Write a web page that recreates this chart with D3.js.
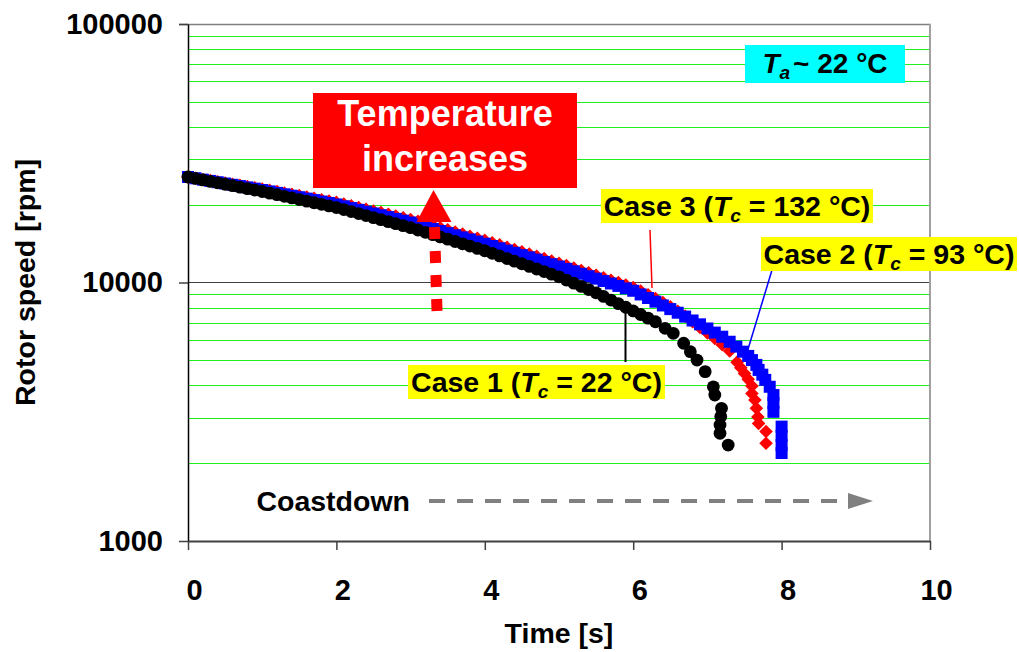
<!DOCTYPE html>
<html>
<head>
<meta charset="utf-8">
<script src="https://cdn.jsdelivr.net/npm/d3@7"></script>
<style>
  body { margin: 0; background: #fff; }
  svg { display: block; }
  text { font-family: "Liberation Sans", Arial, sans-serif; font-weight: bold; }
</style>
</head>
<body>
<svg id="chart" width="1019" height="652"></svg>
<script>
// Rotor coastdown: speed [rpm] versus time [s], three housing temperatures.
// Regular part of each record is sampled every 0.1 s from t = 0 to 6.0 s,
// the final seconds are listed as explicit (time, speed) pairs.
const sampleStep = 0.1;

const case1Speed = [25590,25260,24940,24620,24300,23990,23680,23380,23080,22780,
  22490,22170,21860,21550,21240,20940,20640,20350,20060,19780,
  19500,19150,18810,18480,18150,17820,17510,17200,16890,16590,
  16290,15960,15640,15320,15010,14710,14410,14110,13830,13550,
  13270,12970,12670,12380,12090,11820,11540,11280,11020,10770,
  10520,10220,9940,9660,9390,9120,8830,8550,8280,8020,
  7760];
const case1TailTime  = [6.1, 6.2, 6.3, 6.43, 6.54, 6.68, 6.77, 6.86, 6.97, 7.08, 7.10, 7.19, 7.18, 7.17, 7.17, 7.28];
const case1TailSpeed = [7520, 7280, 7050, 6650, 6360, 5820, 5400, 5010, 4520, 3950, 3670, 3260, 3030, 2810, 2610, 2350];

const case2Speed = [25590,25300,25000,24720,24430,24150,23880,23610,23330,23070,
  22800,22510,22220,21940,21660,21380,21110,20840,20570,20310,
  20040,19720,19410,19100,18790,18490,18200,17910,17620,17340,
  17060,16740,16430,16120,15820,15520,15230,14950,14670,14400,
  14130,13840,13570,13290,13030,12760,12510,12260,12010,11770,
  11530,11290,11050,10810,10580,10350,10130,9910,9700,9490,
  9290];
const case2TailTime  = [6.1, 6.2, 6.3, 6.4, 6.5, 6.6, 6.7, 6.8, 6.9, 7.0, 7.1, 7.2, 7.3, 7.39, 7.48, 7.55, 7.6, 7.66, 7.69, 7.74, 7.78, 7.84, 7.89, 7.89, 7.89, 8.0, 8.0, 8.0, 8.0];
const case2TailSpeed = [8990, 8710, 8430, 8150, 7890, 7640, 7380, 7130, 6890, 6640, 6400, 6170, 5900, 5650, 5400, 5200, 5010, 4800, 4590, 4400, 4200, 3950, 3670, 3420, 3160, 2770, 2550, 2350, 2190];

const case3Speed = [25590,25320,25050,24790,24520,24260,24010,23760,23500,23260,
  23010,22740,22470,22200,21940,21680,21420,21170,20910,20670,
  20410,20100,19810,19510,19210,18920,18640,18360,18080,17810,
  17540,17240,16920,16600,16290,15990,15690,15400,15110,14830,
  14550,14260,13980,13690,13420,13140,12890,12630,12370,12120,
  11880,11630,11380,11130,10900,10660,10430,10210,9990,9770,
  9570];
const case3TailTime  = [6.1, 6.2, 6.3, 6.4, 6.5, 6.6, 6.7, 6.8, 6.9, 7.0, 7.1, 7.2, 7.3, 7.4, 7.45, 7.5, 7.55, 7.6, 7.6, 7.64, 7.66, 7.68, 7.69, 7.79, 7.79];
const case3TailSpeed = [9270, 8970, 8670, 8360, 8050, 7740, 7410, 7050, 6700, 6380, 6070, 5750, 5430, 4920, 4680, 4450, 4220, 3980, 3720, 3510, 3260, 3020, 2850, 2650, 2390];

const xTicks = [0, 2, 4, 6, 8, 10];
const yTicks = [1000, 10000, 100000];

function record(regular, tailTime, tailSpeed) {
  const pts = regular.map((v, i) => ({ t: +(i * sampleStep).toFixed(2), v }));
  tailTime.forEach((t, i) => pts.push({ t, v: tailSpeed[i] }));
  return pts;
}
const case1 = record(case1Speed, case1TailTime, case1TailSpeed);
const case2 = record(case2Speed, case2TailTime, case2TailSpeed);
const case3 = record(case3Speed, case3TailTime, case3TailSpeed);

const svg = d3.select("#chart");
const x = d3.scaleLinear().domain([0, 10]).range([188, 930]);
const y = d3.scaleLog().domain([1000, 100000]).range([541, 24]);

// minor gridlines (2..9 x decade)
const grid = svg.append("g");
grid.selectAll("line.minor")
  .data(y.ticks().filter(v => !yTicks.includes(v)))
  .join("line")
  .attr("x1", x(0)).attr("x2", x(10))
  .attr("y1", d => Math.round(y(d)) + 0.5).attr("y2", d => Math.round(y(d)) + 0.5)
  .attr("stroke", "#1fee1f").attr("stroke-width", 1);
// decade lines
grid.append("line")
  .attr("x1", x(0)).attr("x2", x(10))
  .attr("y1", Math.round(y(10000)) + 0.5).attr("y2", Math.round(y(10000)) + 0.5)
  .attr("stroke", "#404040").attr("stroke-width", 1.2);
grid.append("line")
  .attr("x1", x(0) - 9).attr("x2", x(10) + 1)
  .attr("y1", Math.round(y(100000)) + 0.5).attr("y2", Math.round(y(100000)) + 0.5)
  .attr("stroke", "#808080").attr("stroke-width", 1.5);
grid.append("line")
  .attr("x1", x(10)).attr("x2", x(10))
  .attr("y1", y(100000)).attr("y2", y(1000))
  .attr("stroke", "#a0a0a0").attr("stroke-width", 2);

// axes
const yAxis = svg.append("g")
  .attr("transform", `translate(${x(0)},0)`)
  .call(d3.axisLeft(y).tickValues(yTicks).tickFormat(d3.format("d"))
    .tickSize(9).tickSizeOuter(0).tickPadding(16));
yAxis.select(".domain").attr("stroke", "#000").attr("stroke-width", 1.5);
yAxis.selectAll(".tick line").attr("stroke", "#404040").attr("stroke-width", 1.5);
yAxis.selectAll("text").attr("font-size", 29).attr("fill", "#000")
  .attr("font-family", '"Liberation Sans", Arial, sans-serif').attr("font-weight", "bold");

const xAxis = svg.append("g")
  .attr("transform", `translate(0,${y(1000)})`)
  .call(d3.axisBottom(x).tickValues(xTicks).tickFormat(d3.format("d"))
    .tickSize(9).tickSizeOuter(0).tickPadding(29));
xAxis.select(".domain").attr("stroke", "#404040").attr("stroke-width", 2);
xAxis.selectAll(".tick line").attr("stroke", "#404040").attr("stroke-width", 1.5);
xAxis.selectAll("text").attr("font-size", 29).attr("fill", "#000").attr("x", 6)
  .attr("font-family", '"Liberation Sans", Arial, sans-serif').attr("font-weight", "bold");

// axis titles
svg.append("text")
  .attr("transform", `translate(35,${(y(1000) + y(100000)) / 2}) rotate(-90)`)
  .attr("text-anchor", "middle").attr("font-size", 28.5).text("Rotor speed [rpm]");
svg.append("text")
  .attr("x", (x(0) + x(10)) / 2).attr("y", 643)
  .attr("text-anchor", "middle").attr("font-size", 28.5).text("Time [s]");

// data markers: case 3 (red diamonds), case 2 (blue squares), case 1 (black circles)
const diamond = d3.symbol(d3.symbolSquare, 92)();
svg.append("g").selectAll("path")
  .data(case3).join("path")
  .attr("d", diamond)
  .attr("transform", d => `translate(${x(d.t)},${y(d.v)}) rotate(45)`)
  .attr("fill", "#ff0000");

const square = d3.symbol(d3.symbolSquare, 144)();
svg.append("g").selectAll("path")
  .data(case2).join("path")
  .attr("d", square)
  .attr("transform", d => `translate(${x(d.t)},${y(d.v)})`)
  .attr("fill", "#0000ff");

svg.append("g").selectAll("circle")
  .data(case1).join("circle")
  .attr("cx", d => x(d.t)).attr("cy", d => y(d.v)).attr("r", 6.4)
  .attr("fill", "#000");

// "Temperature increases" box and arrow
svg.append("rect").attr("x", 313).attr("y", 93).attr("width", 264).attr("height", 95).attr("fill", "#ff0000");
svg.append("text").attr("x", 445).attr("y", 126).attr("text-anchor", "middle")
  .attr("font-size", 36).attr("fill", "#fff").text("Temperature");
svg.append("text").attr("x", 445).attr("y", 171).attr("text-anchor", "middle")
  .attr("font-size", 36).attr("fill", "#fff").text("increases");
svg.append("path").attr("d", "M433.5,190L451.5,222L416.5,222Z").attr("fill", "#ff0000");
svg.append("line").attr("x1", 434.5).attr("y1", 227).attr("x2", 437).attr("y2", 311)
  .attr("stroke", "#ff0000").attr("stroke-width", 11).attr("stroke-dasharray", "12,12");

// ambient temperature label
svg.append("rect").attr("x", 745).attr("y", 45).attr("width", 160).attr("height", 38).attr("fill", "#00ffff");
{
  const t = svg.append("text").attr("x", 825).attr("y", 73).attr("text-anchor", "middle").attr("font-size", 28);
  t.append("tspan").attr("font-style", "italic").text("T");
  t.append("tspan").attr("font-style", "italic").attr("font-size", 19).attr("dy", 6).text("a");
  t.append("tspan").attr("dy", -6).attr("dx", 3).text("~ 22 °C");
}

// case labels with leader lines
function caseLabel(cx, top, w, name, temp) {
  svg.append("rect").attr("x", cx - w / 2).attr("y", top).attr("width", w).attr("height", 34).attr("fill", "#ffff00");
  const t = svg.append("text").attr("x", cx).attr("y", top + 27).attr("text-anchor", "middle").attr("font-size", 28.5);
  t.append("tspan").text(name + " (");
  t.append("tspan").attr("font-style", "italic").text("T");
  t.append("tspan").attr("font-style", "italic").attr("font-size", 19).attr("dy", 6).text("c");
  t.append("tspan").attr("dy", -6).text(" = " + temp + " °C)");
}
svg.append("line").attr("x1", 650).attr("y1", 230).attr("x2", 652).attr("y2", 288).attr("stroke", "#ff0000").attr("stroke-width", 1.5);
svg.append("line").attr("x1", 771.7).attr("y1", 271).attr("x2", 748.3).attr("y2", 348.3).attr("stroke", "#0000ff").attr("stroke-width", 1.5);
svg.append("line").attr("x1", 625.5).attr("y1", 313).attr("x2", 625.5).attr("y2", 362).attr("stroke", "#000").attr("stroke-width", 2);
caseLabel(737, 189, 272, "Case 3", 132);
caseLabel(889, 237, 256, "Case 2", 93);
caseLabel(536.5, 365, 257, "Case 1", 22);

// coastdown direction arrow
svg.append("text").attr("x", 410).attr("y", 511).attr("text-anchor", "end").attr("font-size", 28.5).text("Coastdown");
svg.append("line").attr("x1", 429).attr("y1", 501).attr("x2", 852).attr("y2", 501)
  .attr("stroke", "#808080").attr("stroke-width", 4).attr("stroke-dasharray", "16,12");
svg.append("path").attr("d", "M848,493L873,501L848,509Z").attr("fill", "#808080");
</script>
</body>
</html>
